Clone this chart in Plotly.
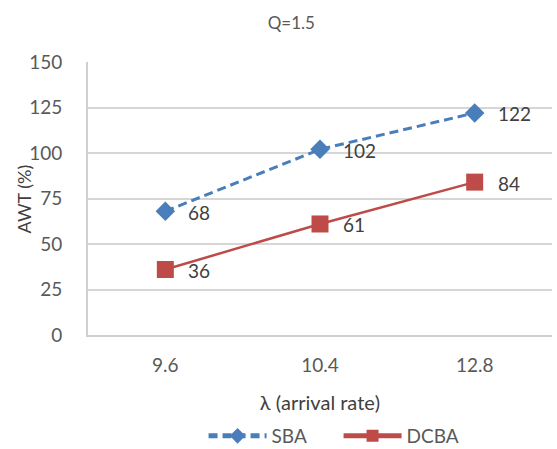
import plotly.graph_objects as go

categories = ["9.6", "10.4", "12.8"]
sba = [68, 102, 122]
dcba = [36, 61, 84]
y_ticks = [0, 25, 50, 75, 100, 125, 150]

font_family = "Lato, 'Open Sans', sans-serif"
tick_color = "#595959"
label_color = "#404040"

fig = go.Figure()
fig.add_trace(go.Scatter(
    x=categories, y=sba, name="SBA", mode="lines+markers",
    line=dict(color="#4a7ebb", width=3, dash="9px,5px"),
    marker=dict(symbol="diamond", size=15, color="#4a7ebb"),
))
fig.add_trace(go.Scatter(
    x=categories, y=dcba, name="DCBA", mode="lines+markers",
    line=dict(color="#be4b48", width=2.5),
    marker=dict(symbol="square", size=17, color="#be4b48"),
))

annotations = []
for series in (sba, dcba):
    for i, v in enumerate(series):
        annotations.append(dict(
            x=i, y=v, xref="x", yref="y", text=str(v), showarrow=False,
            xanchor="left", yanchor="middle", xshift=21, yshift=-1,
            font=dict(size=19, color=label_color, family=font_family),
        ))
annotations.append(dict(
    x=-0.138, y=0.5, xref="paper", yref="paper", text="AWT (%)", showarrow=False,
    textangle=-90, xanchor="center", yanchor="middle",
    font=dict(size=18, color=label_color, family=font_family),
))

fig.update_layout(
    width=557, height=449,
    margin=dict(l=88, r=5, t=62, b=114),
    paper_bgcolor="white", plot_bgcolor="white",
    font=dict(family=font_family, color=tick_color, size=19),
    title=dict(text="Q=1.5", x=0.523, xanchor="center", y=1 - 23 / 449, yanchor="middle",
               font=dict(size=17, color=tick_color, family=font_family)),
    showlegend=True,
    legend=dict(orientation="h", xref="paper", yref="container",
                x=0.54, xanchor="center", y=1 - 436 / 449, yanchor="middle",
                font=dict(size=19, color=tick_color), bgcolor="rgba(0,0,0,0)",
                itemsizing="constant", itemwidth=58, traceorder="normal",
                entrywidth=62, entrywidthmode="pixels"),
    annotations=annotations,
    xaxis=dict(
        type="category", range=[-0.5, 2.5], automargin=False,
        showgrid=False, showline=True, linecolor="#d0d0d0", linewidth=2,
        ticks="", tickfont=dict(size=19, color=tick_color), ticklabelstandoff=12,
        title=dict(text="λ (arrival rate)", font=dict(size=20, color=label_color), standoff=21),
        zeroline=False,
    ),
    yaxis=dict(
        range=[0, 150], tickvals=y_ticks, automargin=False,
        showgrid=True, gridcolor="#d6d6d6", gridwidth=2,
        showline=True, linecolor="#d0d0d0", linewidth=2,
        zeroline=False, ticks="", ticklabelstandoff=20,
        tickfont=dict(size=19, color=tick_color),
    ),
)

fig.write_html("out.html")
